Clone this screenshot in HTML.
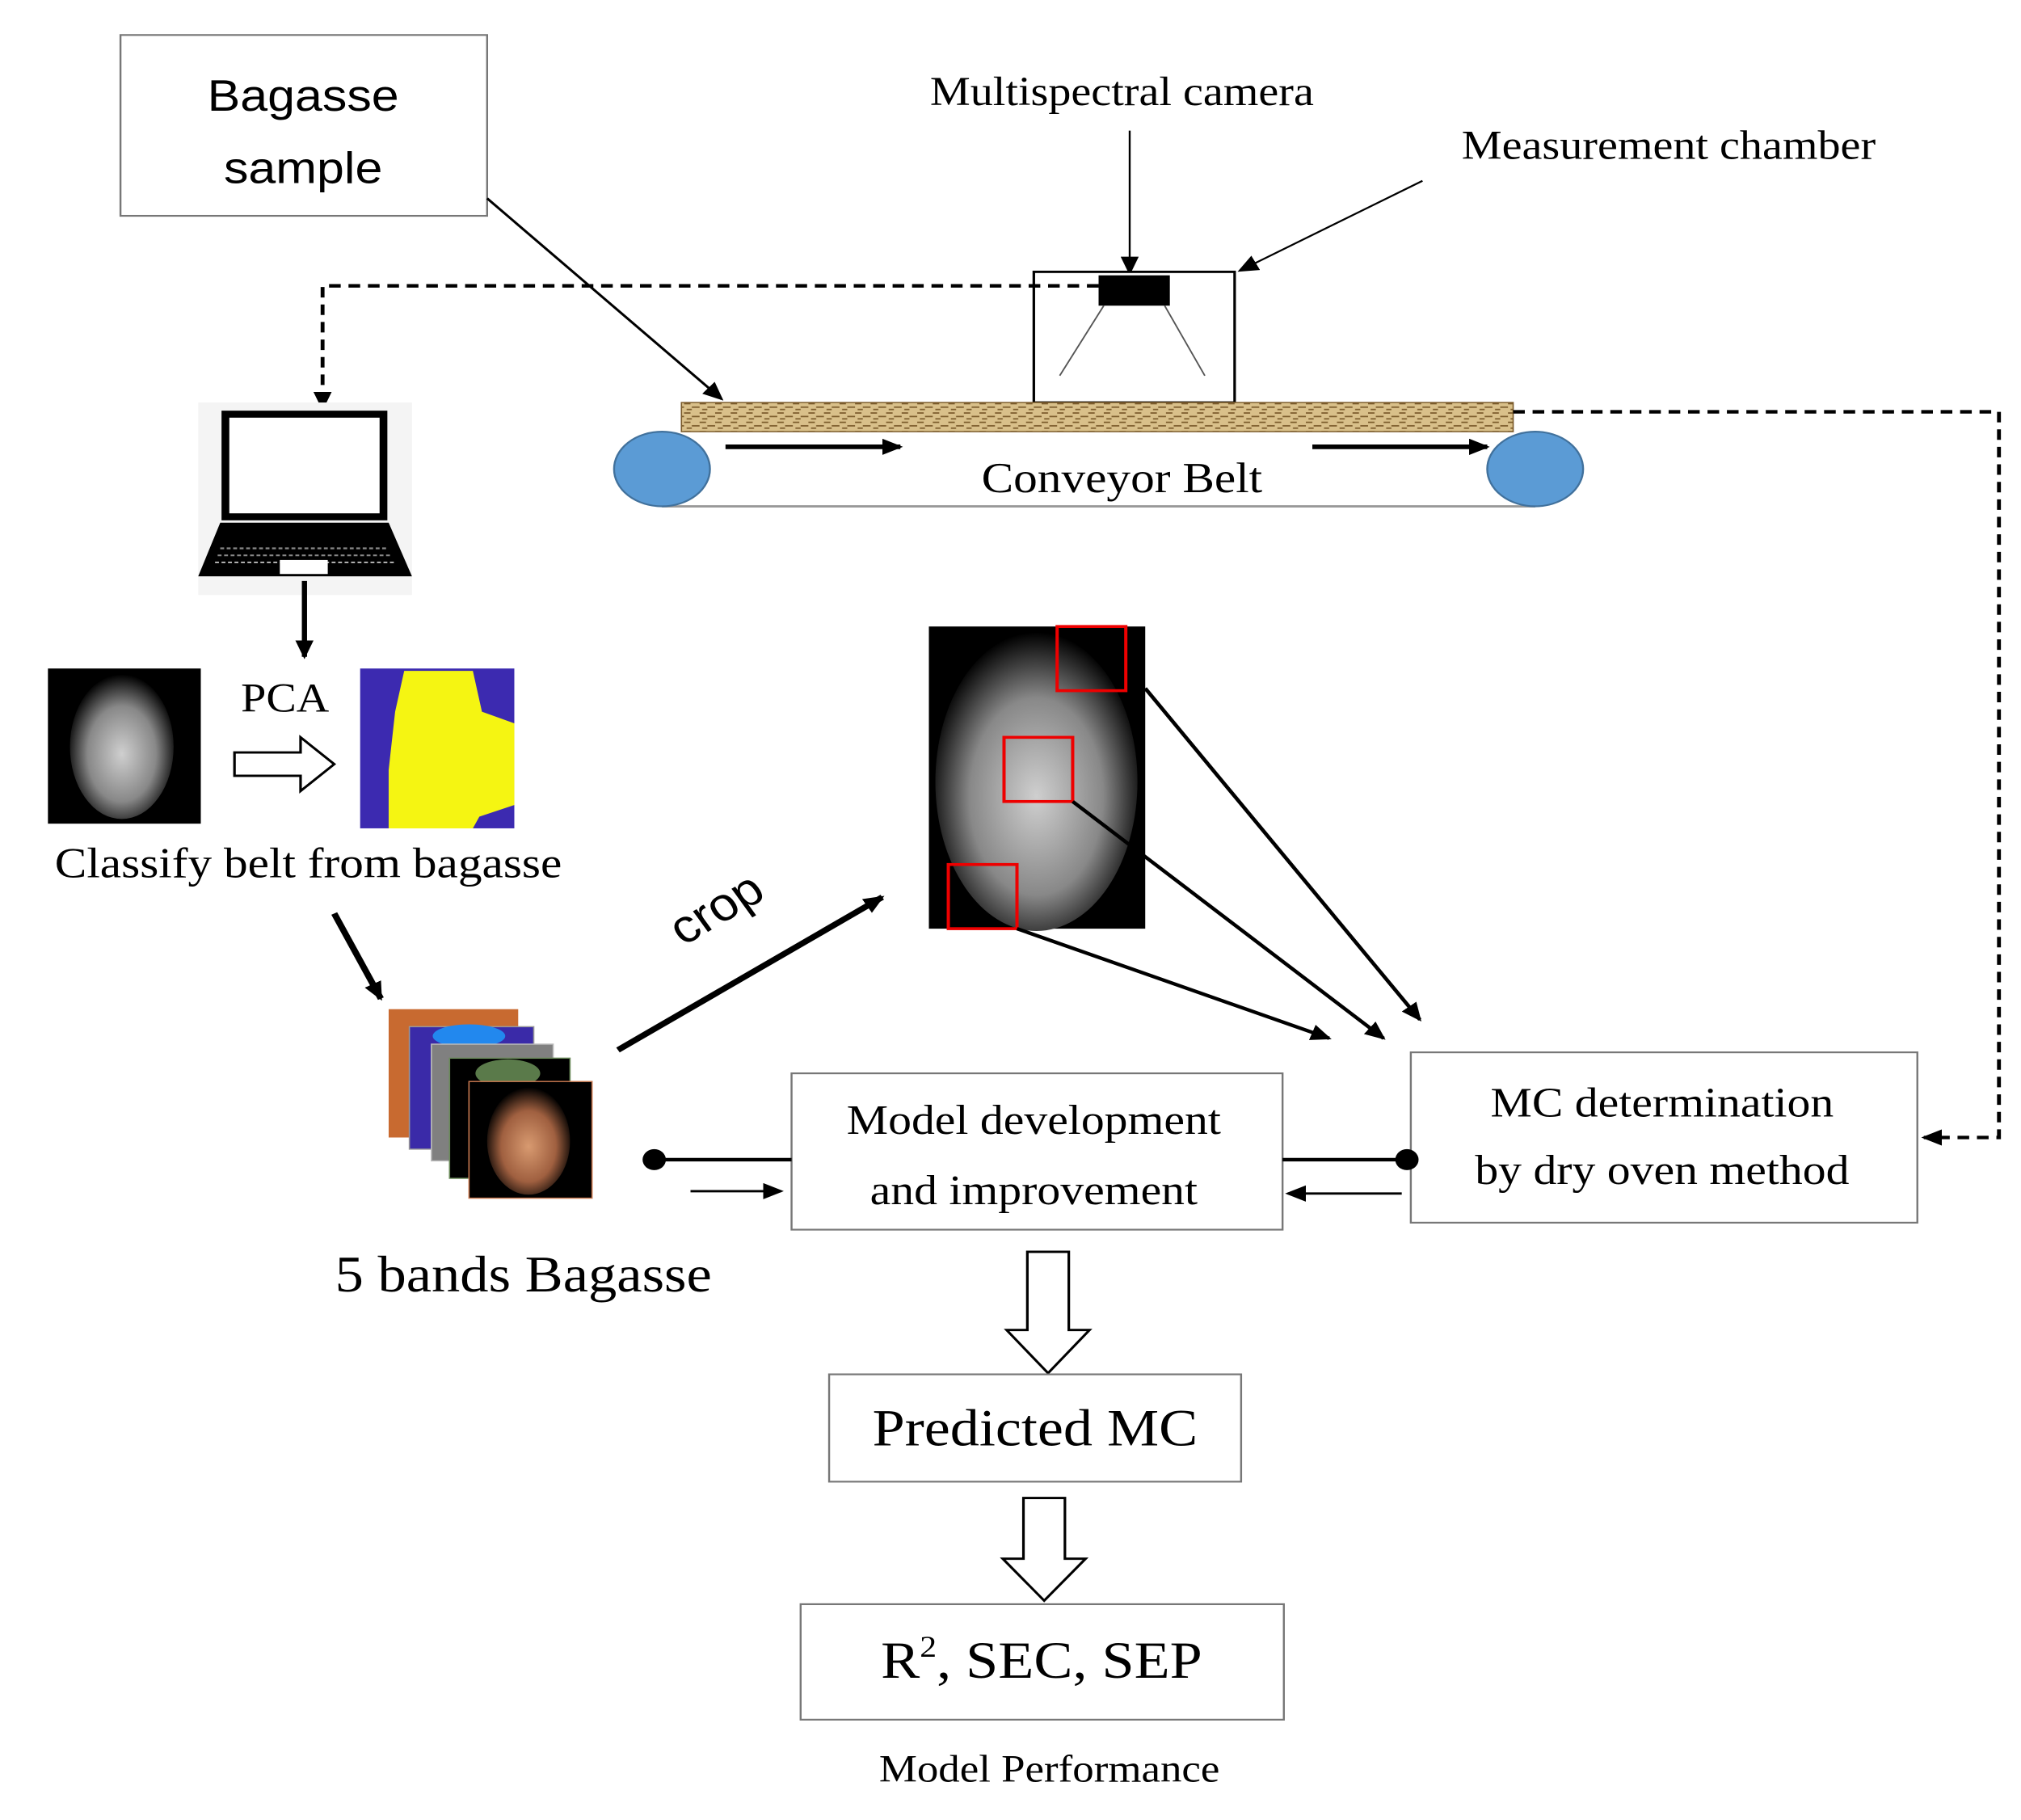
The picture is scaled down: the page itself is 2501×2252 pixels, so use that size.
<!DOCTYPE html>
<html><head><meta charset="utf-8"><style>html,body{margin:0;padding:0;background:#fff;overflow:hidden}svg{display:block}</style></head>
<body>
<svg width="2501" height="2252" viewBox="0 0 1560 1560" preserveAspectRatio="none" xmlns="http://www.w3.org/2000/svg">
<defs>
<marker id="ahb" markerWidth="16" markerHeight="14" refX="14" refY="7" orient="auto" markerUnits="userSpaceOnUse"><path d="M0,0 L16,7 L0,14 z" fill="#000"/></marker>
<pattern id="belt" width="12" height="8" patternUnits="userSpaceOnUse"><rect width="12" height="8" fill="#d9c08a"/><path d="M0,2h5M6,5h6M2,7h4" stroke="#7a5a2a" stroke-width="1.2"/></pattern>
<radialGradient id="gb" cx="50%" cy="55%" r="55%"><stop offset="0" stop-color="#cfcfcf"/><stop offset="0.6" stop-color="#888"/><stop offset="1" stop-color="#000"/></radialGradient>
<radialGradient id="ob" cx="50%" cy="55%" r="55%"><stop offset="0" stop-color="#d89a70"/><stop offset="0.6" stop-color="#a06040"/><stop offset="1" stop-color="#000"/></radialGradient>
</defs>
<g font-family="'Liberation Serif',serif" fill="#000">
<rect x="93" y="30" width="283" height="155" fill="#fff" stroke="#777" stroke-width="1.5"/>
<text x="234" y="95" font-family="'Liberation Sans',sans-serif" font-size="38" text-anchor="middle">Bagasse</text>
<text x="234" y="157" font-family="'Liberation Sans',sans-serif" font-size="38" text-anchor="middle">sample</text>
<line x1="376" y1="170" x2="557" y2="342" stroke="#000" stroke-width="2" marker-end="url(#ahb)"/>
<text x="866" y="90" font-size="35" text-anchor="middle">Multispectral camera</text>
<line x1="872" y1="112" x2="872" y2="234" stroke="#000" stroke-width="1.5" marker-end="url(#ahb)"/>
<text x="1288" y="136" font-size="35" text-anchor="middle">Measurement chamber</text>
<line x1="1098" y1="155" x2="957" y2="232" stroke="#000" stroke-width="1.5" marker-end="url(#ahb)"/>
<rect x="798" y="233" width="155" height="112" fill="#fff" stroke="#000" stroke-width="2"/>
<rect x="848" y="236" width="55" height="26" fill="#000"/>
<line x1="852" y1="262" x2="818" y2="322" stroke="#555" stroke-width="1.2"/>
<line x1="899" y1="262" x2="930" y2="322" stroke="#555" stroke-width="1.2"/>
<line x1="511" y1="434" x2="1185" y2="434" stroke="#999" stroke-width="2"/>
<rect x="526" y="345" width="642" height="25" fill="url(#belt)" stroke="#7a5a2a" stroke-width="1"/>
<ellipse cx="511" cy="402" rx="37" ry="32" fill="#5b9bd5" stroke="#41719c" stroke-width="1.5"/>
<ellipse cx="1185" cy="402" rx="37" ry="32" fill="#5b9bd5" stroke="#41719c" stroke-width="1.5"/>
<line x1="560" y1="383" x2="695" y2="383" stroke="#000" stroke-width="4" marker-end="url(#ahb)"/>
<line x1="1013" y1="383" x2="1148" y2="383" stroke="#000" stroke-width="4" marker-end="url(#ahb)"/>
<text x="866" y="422" font-size="37" text-anchor="middle">Conveyor Belt</text>
<polyline points="848,245 249,245 249,350" fill="none" stroke="#000" stroke-width="3" stroke-dasharray="9,6" marker-end="url(#ahb)"/>
<polyline points="1168,353 1543,353 1543,975 1485,975" fill="none" stroke="#000" stroke-width="3" stroke-dasharray="9,6" marker-end="url(#ahb)"/>
<rect x="153" y="345" width="165" height="165" fill="#f4f4f4"/>
<rect x="174" y="355" width="122" height="88" fill="#fff" stroke="#000" stroke-width="6"/>
<path d="M170,448 L300,448 L318,494 L153,494 Z" fill="#000"/>
<path d="M166,482 L304,482" stroke="#fff" stroke-width="1" stroke-dasharray="3,2"/>
<path d="M170,470 L300,470 M168,476 L302,476" stroke="#888" stroke-width="1.5" stroke-dasharray="3,2"/>
<rect x="216" y="480" width="37" height="12" fill="#fff"/>
<line x1="235" y1="498" x2="235" y2="563" stroke="#000" stroke-width="4" marker-end="url(#ahb)"/>
<rect x="37" y="573" width="118" height="133" fill="#000"/>
<ellipse cx="94" cy="640" rx="40" ry="62" fill="url(#gb)"/>
<text x="220" y="610" font-size="35" text-anchor="middle">PCA</text>
<path d="M181,645 L232,645 L232,632 L258,655 L232,678 L232,665 L181,665 Z" fill="#fff" stroke="#000" stroke-width="2"/>
<rect x="278" y="573" width="119" height="137" fill="#3c2ab0"/>
<path d="M312,575 L365,575 L372,610 L397,620 L397,690 L370,700 L365,710 L300,710 L300,660 L305,610 Z" fill="#f5f512"/>
<text x="238" y="752" font-size="37" text-anchor="middle">Classify belt from bagasse</text>
<line x1="258" y1="783" x2="294" y2="856" stroke="#000" stroke-width="5" marker-end="url(#ahb)"/>
<rect x="300" y="865" width="100" height="110" fill="#c86a30"/>
<rect x="316" y="880" width="96" height="105" fill="#3a2aa8" stroke="#999"/>
<ellipse cx="362" cy="888" rx="28" ry="10" fill="#2288ee"/>
<rect x="333" y="895" width="94" height="100" fill="#808080" stroke="#bbb"/>
<rect x="347" y="907" width="93" height="103" fill="#000" stroke="#6a8a5a"/>
<ellipse cx="392" cy="920" rx="25" ry="12" fill="#5a7a4a"/>
<rect x="362" y="927" width="95" height="100" fill="#000" stroke="#c87850"/>
<ellipse cx="408" cy="978" rx="32" ry="46" fill="url(#ob)"/>
<text x="404" y="1107" font-size="44" text-anchor="middle">5 bands Bagasse</text>
<line x1="477" y1="900" x2="681" y2="769" stroke="#000" stroke-width="5" marker-end="url(#ahb)"/>
<text x="560" y="790" font-family="'Liberation Sans',sans-serif" font-size="40" text-anchor="middle" transform="rotate(-33 560 790)">crop</text>
<rect x="717" y="537" width="167" height="259" fill="#000"/>
<ellipse cx="800" cy="670" rx="78" ry="128" fill="url(#gb)"/>
<rect x="816" y="537" width="53" height="55" fill="none" stroke="#e00" stroke-width="2.5"/>
<rect x="775" y="632" width="53" height="55" fill="none" stroke="#e00" stroke-width="2.5"/>
<rect x="732" y="741" width="53" height="55" fill="none" stroke="#e00" stroke-width="2.5"/>
<line x1="884" y1="590" x2="1096" y2="874" stroke="#000" stroke-width="3" marker-end="url(#ahb)"/>
<line x1="828" y1="687" x2="1068" y2="890" stroke="#000" stroke-width="3" marker-end="url(#ahb)"/>
<line x1="785" y1="796" x2="1026" y2="890" stroke="#000" stroke-width="3" marker-end="url(#ahb)"/>
<rect x="611" y="920" width="379" height="134" fill="#fff" stroke="#777" stroke-width="1.5"/>
<text x="798" y="972" font-size="36" text-anchor="middle">Model development</text>
<text x="798" y="1032" font-size="36" text-anchor="middle">and improvement</text>
<rect x="1089" y="902" width="391" height="146" fill="#fff" stroke="#777" stroke-width="1.5"/>
<text x="1283" y="957" font-size="36" text-anchor="middle">MC determination</text>
<text x="1283" y="1015" font-size="36" text-anchor="middle">by dry oven method</text>
<circle cx="505" cy="994" r="9"/><line x1="505" y1="994" x2="611" y2="994" stroke="#000" stroke-width="3"/>
<line x1="533" y1="1021" x2="603" y2="1021" stroke="#000" stroke-width="2" marker-end="url(#ahb)"/>
<circle cx="1086" cy="994" r="9"/><line x1="990" y1="994" x2="1086" y2="994" stroke="#000" stroke-width="3"/>
<line x1="1082" y1="1023" x2="994" y2="1023" stroke="#000" stroke-width="2" marker-end="url(#ahb)"/>
<path d="M793,1073 L825,1073 L825,1140 L841,1140 L809,1177 L777,1140 L793,1140 Z" fill="#fff" stroke="#000" stroke-width="2"/>
<rect x="640" y="1178" width="318" height="92" fill="#fff" stroke="#777" stroke-width="1.5"/>
<text x="799" y="1239" font-size="45" text-anchor="middle">Predicted MC</text>
<path d="M790,1284 L822,1284 L822,1336 L838,1336 L806,1372 L774,1336 L790,1336 Z" fill="#fff" stroke="#000" stroke-width="2"/>
<rect x="618" y="1375" width="373" height="99" fill="#fff" stroke="#777" stroke-width="1.5"/>
<text x="804" y="1438" font-size="45" text-anchor="middle">R<tspan font-size="26" dy="-18">2</tspan><tspan dy="18">, SEC, SEP</tspan></text>
<text x="810" y="1527" font-size="33" text-anchor="middle">Model Performance</text>
</g>
</svg>
</body></html>
